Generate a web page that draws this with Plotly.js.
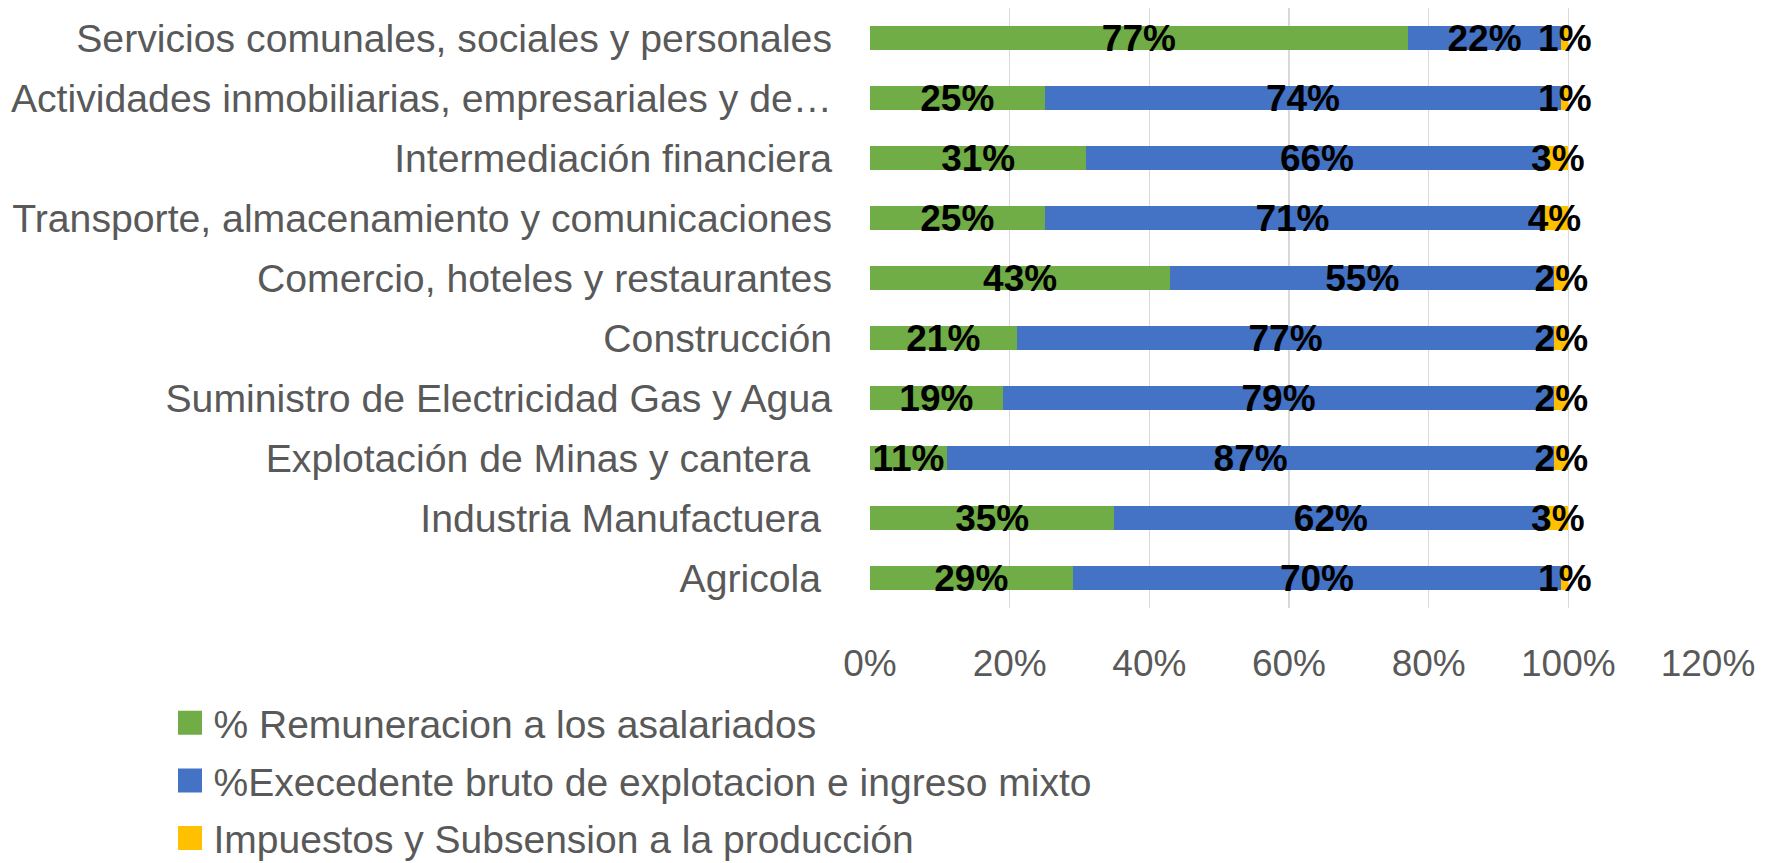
<!DOCTYPE html>
<html>
<head>
<meta charset="utf-8">
<script src="https://cdn.plot.ly/plotly-3.0.1.min.js"></script>
<style>html,body{margin:0;padding:0;background:#fff;}#chart{width:1773px;height:863px;}</style>
</head>
<body>
<div id="chart"></div>
<script>
const categories = [
  "Servicios comunales, sociales y personales",
  "Actividades inmobiliarias, empresariales y de\u2026",
  "Intermediación financiera",
  "Transporte, almacenamiento y comunicaciones",
  "Comercio, hoteles y restaurantes",
  "Construcción",
  "Suministro de Electricidad Gas y Agua",
  "Explotación de Minas y cantera  ",
  "Industria Manufactuera ",
  "Agricola "
];
const seriesNames = [
  "% Remuneracion a los asalariados",
  "%Execedente bruto de explotacion e ingreso mixto",
  "Impuestos y Subsension a la producción"
];
const remuneracion = [0.77, 0.25, 0.31, 0.25, 0.43, 0.21, 0.19, 0.11, 0.35, 0.29];
const excedente    = [0.22, 0.74, 0.66, 0.71, 0.55, 0.77, 0.79, 0.87, 0.62, 0.70];
const impuestos    = [0.01, 0.01, 0.03, 0.04, 0.02, 0.02, 0.02, 0.02, 0.03, 0.01];
const xTicks = [0, 0.2, 0.4, 0.6, 0.8, 1.0, 1.2];
const colors = ["#70AD47", "#4472C4", "#FFC000"];

const FONT = "Liberation Sans, Arial, sans-serif";
const allValues = [remuneracion, excedente, impuestos];
const traces = allValues.map((vals, i) => ({
  type: "bar",
  orientation: "h",
  name: seriesNames[i],
  legendgroup: "g" + i,
  y: categories,
  x: vals,
  marker: {color: colors[i]},
  texttemplate: "%{x:.0%}",
  textposition: "inside",
  insidetextanchor: "middle",
  constraintext: "none",
  textangle: 0,
  cliponaxis: false,
  textfont: {family: FONT, size: 37, color: "#000000", weight: "bold"},
  hoverinfo: "skip"
}));

const layout = {
  width: 1773,
  height: 863,
  margin: {l: 870, r: 65, t: 8, b: 255, pad: 0},
  paper_bgcolor: "#ffffff",
  plot_bgcolor: "#ffffff",
  barmode: "stack",
  bargap: 0.61,
  font: {family: FONT, color: "#595959", size: 39},
  xaxis: {
    range: [0, 1.2],
    tickvals: xTicks,
    tickformat: ".0%",
    showgrid: true,
    gridcolor: "#D9D9D9",
    gridwidth: 1.3,
    zeroline: false,
    showline: false,
    ticks: "",
    ticklabelstandoff: 30,
    tickfont: {family: FONT, size: 37, color: "#595959"}
  },
  yaxis: {
    type: "category",
    autorange: "reversed",
    showgrid: false,
    zeroline: false,
    showline: false,
    ticks: "",
    ticklabelstandoff: 37,
    tickfont: {family: FONT, size: 39.2, color: "#595959"}
  },
  showlegend: true,
  legend: {
    orientation: "v",
    traceorder: "grouped",
    tracegroupgap: 4,
    itemwidth: 37,
    xref: "paper",
    x: -0.8395,
    xanchor: "left",
    yref: "container",
    y: 0.1995,
    yanchor: "top",
    font: {family: FONT, size: 39, color: "#595959"},
    bgcolor: "rgba(0,0,0,0)"
  }
};

Plotly.newPlot("chart", traces, layout, {staticPlot: true}).then(() => {
  document.querySelectorAll(".legend .legendpoints path").forEach(p => {
    const t = p.getAttribute("transform") || "";
    p.setAttribute("transform", t + " scale(2)");
  });
});
</script>
</body>
</html>
